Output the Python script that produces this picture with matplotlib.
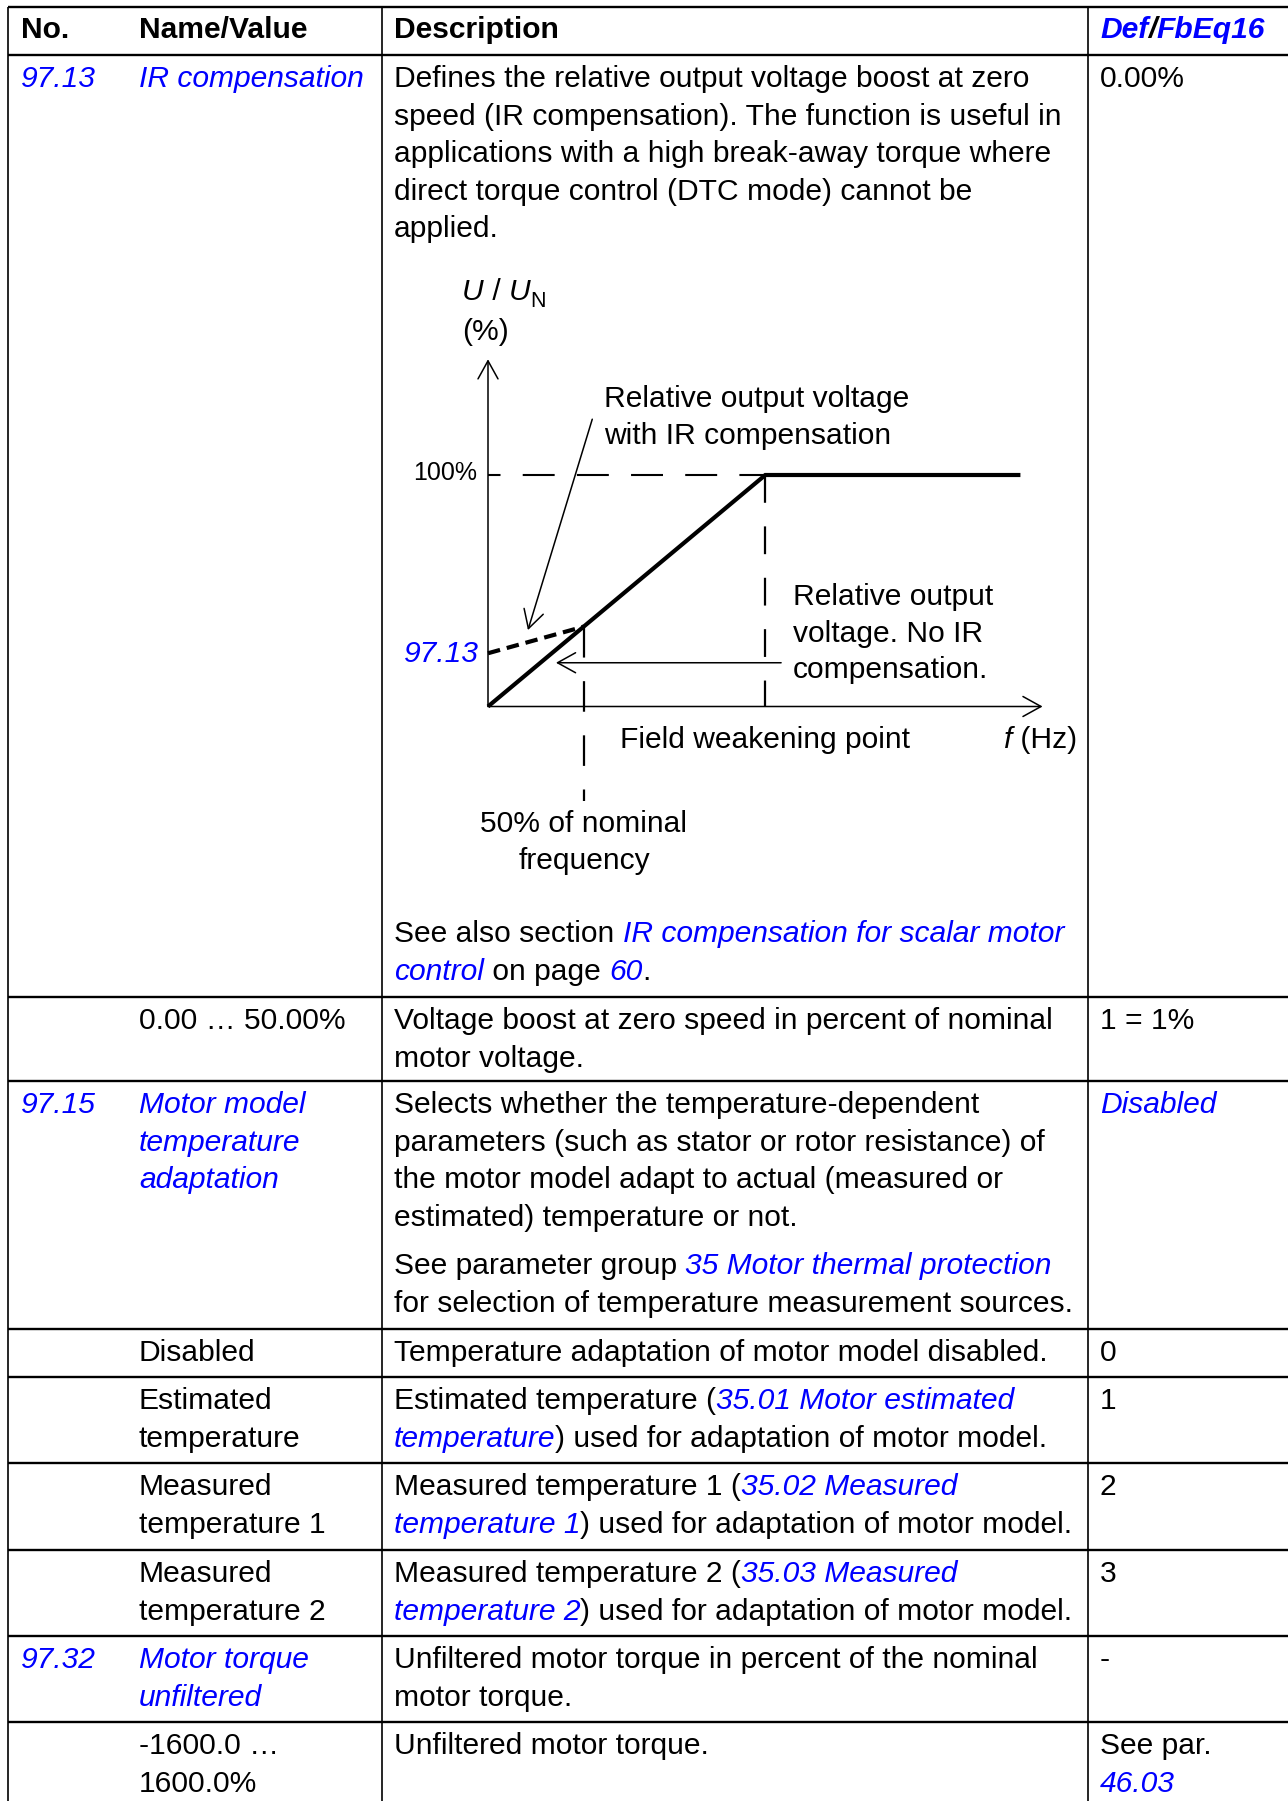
import matplotlib
matplotlib.use("Agg")
import matplotlib.pyplot as plt
from matplotlib.font_manager import FontProperties

plt.rcParams["font.family"] = ["Liberation Sans", "DejaVu Sans"]
plt.rcParams["lines.scale_dashes"] = False

BLUE = "#0000ff"
FS = 21.6          # body text size (pt)

# ---------------- table content ----------------
header = [("No.", "b"), ("Name/Value", "b"), ("Description", "b")]
header_def = [("Def", "bl"), ("/", "bi"), ("FbEq16", "bl")]

numbers = ["97.13", "", "97.15", "", "", "", "", "97.32", ""]
names = [["IR compensation"], ["0.00 … 50.00%"],
         ["Motor model", "temperature", "adaptation"], ["Disabled"],
         ["Estimated", "temperature"], ["Measured", "temperature 1"],
         ["Measured", "temperature 2"], ["Motor torque", "unfiltered"],
         ["-1600.0 …", "1600.0%"]]
name_is_link = [True, False, True, False, False, False, False, True, False]

descriptions = [
    [[[("Defines the relative output voltage boost at zero", "n")],
      [("speed (IR compensation). The function is useful in", "n")],
      [("applications with a high break-away torque where", "n")],
      [("direct torque control (DTC mode) cannot be", "n")],
      [("applied.", "n")]],
     [[("See also section ", "n"), ("IR compensation for scalar motor", "l")],
      [("control", "l"), (" on page ", "n"), ("60", "l"), (".", "n")]]],
    [[[("Voltage boost at zero speed in percent of nominal", "n")],
      [("motor voltage.", "n")]]],
    [[[("Selects whether the temperature-dependent", "n")],
      [("parameters (such as stator or rotor resistance) of", "n")],
      [("the motor model adapt to actual (measured or", "n")],
      [("estimated) temperature or not.", "n")]],
     [[("See parameter group ", "n"), ("35 Motor thermal protection", "l")],
      [("for selection of temperature measurement sources.", "n")]]],
    [[[("Temperature adaptation of motor model disabled.", "n")]]],
    [[[("Estimated temperature (", "n"), ("35.01 Motor estimated", "l")],
      [("temperature", "l"), (") used for adaptation of motor model.", "n")]]],
    [[[("Measured temperature 1 (", "n"), ("35.02 Measured", "l")],
      [("temperature 1", "l"), (") used for adaptation of motor model.", "n")]]],
    [[[("Measured temperature 2 (", "n"), ("35.03 Measured", "l")],
      [("temperature 2", "l"), (") used for adaptation of motor model.", "n")]]],
    [[[("Unfiltered motor torque in percent of the nominal", "n")],
      [("motor torque.", "n")]]],
    [[[("Unfiltered motor torque.", "n")]]],
]
defaults = [[[("0.00%", "n")]], [[("1 = 1%", "n")]], [[("Disabled", "l")]],
            [[("0", "n")]], [[("1", "n")]], [[("2", "n")]], [[("3", "n")]],
            [[("-", "n")]], [[("See par.", "n")], [("46.03", "l")]]]

# ---------------- diagram data (schematic units: FW point = 100) ----------------
curve_f = [0, 100, 192]
curve_u = [0, 100, 100]
ir_f = [0, 34.5]
ir_u = [23, 34.5]
fw_point = 100
half_freq = 34.5
u_nominal = 100

# ---------------- layout ----------------
row_lines = [55, 997, 1081, 1329, 1377, 1463, 1550, 1636, 1722]
para_offsets = [[32, 887], [32], [32, 193], [32], [32], [32], [32], [32], [32]]
COL_X = [21, 139, 394, 1100]
PITCH = 37.6

STYLES = {
    "n": dict(color="black", style="normal", weight="normal"),
    "i": dict(color="black", style="italic", weight="normal"),
    "l": dict(color=BLUE, style="italic", weight="normal"),
    "b": dict(color="black", style="normal", weight="bold"),
    "bl": dict(color=BLUE, style="italic", weight="bold"),
    "bi": dict(color="black", style="italic", weight="bold"),
}

fig = plt.figure(figsize=(12.88, 18.01), dpi=100)
ax = fig.add_axes([0, 0, 1, 1])
ax.set_xlim(0, 1288)
ax.set_ylim(1801, 0)
ax.axis("off")
renderer = fig.canvas.get_renderer()


def fprop(key, size):
    s = STYLES[key]
    return FontProperties(family=["Liberation Sans", "DejaVu Sans"],
                          style=s["style"], weight=s["weight"], size=size)


def advance(text, prop):
    w1 = renderer.get_text_width_height_descent("x" + text + "x", prop, ismath=False)[0]
    w0 = renderer.get_text_width_height_descent("xx", prop, ismath=False)[0]
    return w1 - w0


def rich(x, y, segs, size=FS, ha="left"):
    items = []
    for seg in segs:
        txt, key = seg[0], seg[1]
        sz = seg[2] if len(seg) > 2 else size
        dy = seg[3] if len(seg) > 3 else 0
        items.append((txt, key, sz, dy, advance(txt, fprop(key, sz))))
    total = sum(i[4] for i in items)
    if ha == "center":
        x -= total / 2
    elif ha == "right":
        x -= total
    for txt, key, sz, dy, w in items:
        ax.text(x, y + dy, txt, fontproperties=fprop(key, sz),
                color=STYLES[key]["color"], va="baseline", ha="left")
        x += w


# ---------------- table grid ----------------
ax.hlines(7, 8, 1288, color="black", lw=1.7)
ax.hlines(row_lines, 8, 1288, color="black", lw=1.7)
ax.vlines([8, 382, 1088], 7, 1801, color="black", lw=1.2)

# header
for (txt, key), x in zip(header, COL_X[:3]):
    rich(x, 38, [(txt, key)])
rich(COL_X[3], 38, header_def)

# rows
for r, top in enumerate(row_lines):
    base = top + 32
    if numbers[r]:
        rich(COL_X[0], base, [(numbers[r], "l")])
    for k, line in enumerate(names[r]):
        rich(COL_X[1], base + k * PITCH, [(line, "l" if name_is_link[r] else "n")])
    for off, para in zip(para_offsets[r], descriptions[r]):
        for k, line in enumerate(para):
            rich(COL_X[2], top + off + k * PITCH, line)
    for k, line in enumerate(defaults[r]):
        rich(COL_X[3], base + k * PITCH, line)

# ---------------- diagram ----------------
ORG = (488, 706.5)
SX, SY = 2.773, 2.315
box = (390, 250, 1080, 880)   # left, top, right, bottom in px
ax2 = fig.add_axes([box[0] / 1288, 1 - box[3] / 1801,
                    (box[2] - box[0]) / 1288, (box[3] - box[1]) / 1801])
ax2.set_xlim((box[0] - ORG[0]) / SX, (box[2] - ORG[0]) / SX)
ax2.set_ylim((ORG[1] - box[3]) / SY, (ORG[1] - box[1]) / SY)
ax2.axis("off")
ax2.patch.set_alpha(0)

head = "->,head_length=0.65,head_width=0.36"
arr = dict(arrowstyle=head, lw=1.1, color="black", shrinkA=0, shrinkB=0,
           mutation_scale=20)
ax2.annotate("", xy=(0, 150), xytext=(0, 0), arrowprops=arr)
ax2.annotate("", xy=(200, 0), xytext=(0, 0), arrowprops=arr)

ax2.plot([0, fw_point], [u_nominal, u_nominal], color="black", lw=1.5,
         linestyle=(14, (23, 16)), dash_capstyle="butt")
ax2.plot([fw_point, fw_point], [u_nominal, 0], color="black", lw=1.6,
         linestyle=(0, (20, 17)), dash_capstyle="butt")
ax2.plot([half_freq, half_freq], [half_freq, -41], color="black", lw=1.6,
         linestyle=(0, (22, 17)), dash_capstyle="butt")
ax2.plot(curve_f, curve_u, color="black", lw=3.0, solid_capstyle="butt",
         solid_joinstyle="miter")
ax2.plot(ir_f, ir_u, color="black", lw=3.0, linestyle=(0, (9, 5)),
         dash_capstyle="butt")

ax2.annotate("", xy=(14.4, 33.0), xytext=(37.6, 124.1), arrowprops=arr)
ax2.annotate("", xy=(24.5, 18.9), xytext=(105.7, 18.9), arrowprops=arr)

# diagram labels (pixel positions)
rich(462, 300, [("U", "i"), (" / ", "n"), ("U", "i"), ("N", "n", 15.5, 7)])
rich(462, 340, [("(%)", "n")])
rich(604, 407, [("Relative output voltage", "n")])
rich(604, 444, [("with IR compensation", "n")])
rich(477, 480, [("100%", "n")], size=18, ha="right")
rich(479, 662, [("97.13", "l")], ha="right")
rich(793, 605, [("Relative output", "n")])
rich(793, 642, [("voltage. No IR", "n")])
rich(793, 678, [("compensation.", "n")])
rich(620, 748, [("Field weakening point", "n")])
rich(1077, 748, [("f", "i"), (" (Hz)", "n")], ha="right")
rich(584, 832, [("50% of nominal", "n")], ha="center")
rich(584, 869, [("frequency", "n")], ha="center")

fig.savefig("out.png", dpi=100)
